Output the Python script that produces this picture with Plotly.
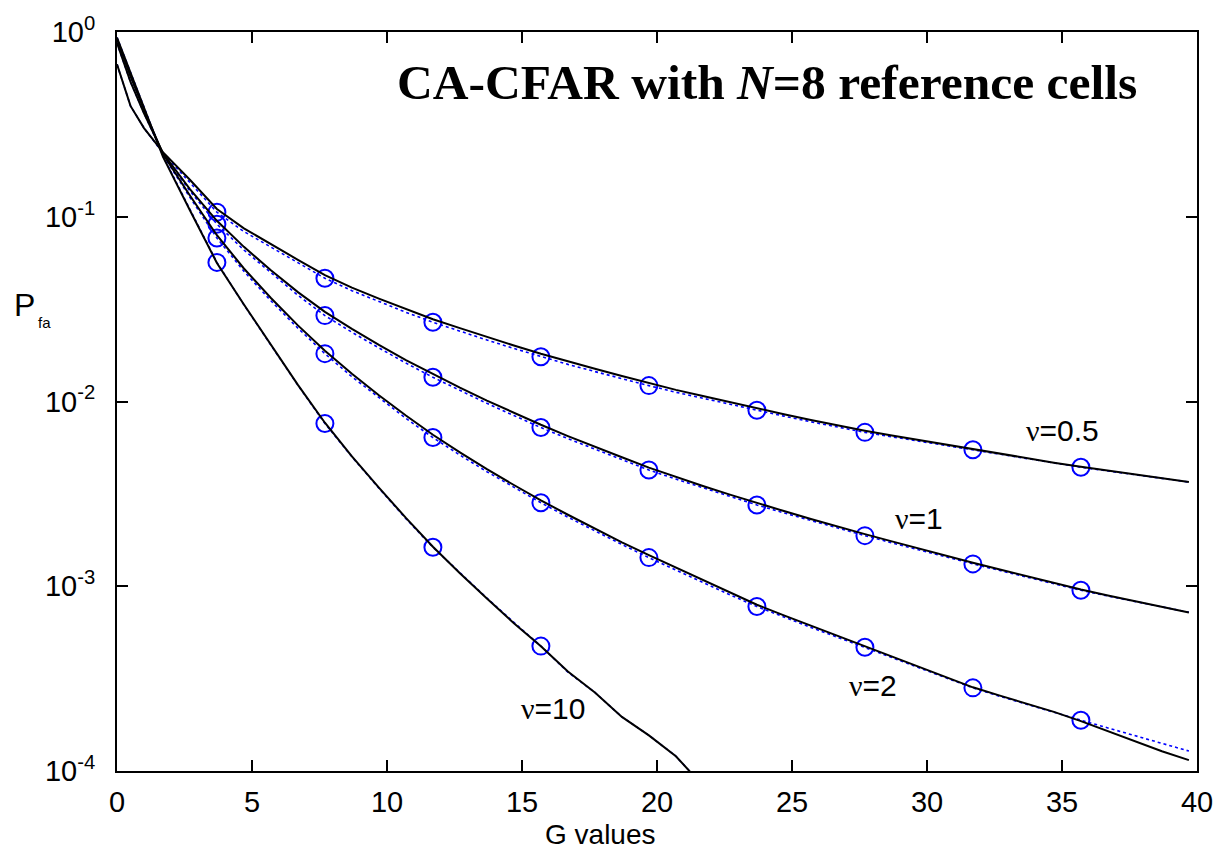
import numpy as np
import plotly.graph_objects as go

# ---------------- data ----------------
G_values = [0.0, 0.5, 1.0, 1.7, 2.7, 3.7, 4.7, 5.7, 6.7, 7.7, 8.7, 9.7, 10.7, 11.7,
            12.7, 13.7, 14.7, 15.7, 16.7, 17.7, 18.7, 19.7, 20.7, 21.7, 22.7, 23.7,
            24.7, 25.7, 26.7, 27.7, 28.7, 29.7, 30.7, 31.7, 32.7, 33.7, 34.7, 35.7,
            36.7, 37.7, 38.7, 39.7]
marker_G = [3.7, 7.7, 11.7, 15.7, 19.7, 23.7, 27.7, 31.7, 35.7]
marker_count = [9, 9, 9, 4]   # circles shown on each dotted curve (nu = 0.5, 1, 2, 10)

# log10(Pfa), blue dotted curves (with circle markers)
log_pfa_nu05_dot = [-0.175, -0.40, -0.52, -0.655, -0.815, -0.975, -1.08, -1.165, -1.25, -1.333,
                    -1.40, -1.46, -1.517, -1.571, -1.62, -1.667, -1.713, -1.758, -1.799, -1.838,
                    -1.877, -1.914, -1.95, -1.983, -2.016, -2.047, -2.079, -2.11, -2.139, -2.167,
                    -2.191, -2.215, -2.238, -2.261, -2.285, -2.31, -2.333, -2.356, -2.376, -2.396,
                    -2.416, -2.436]
log_pfa_nu1_dot = [-0.06, -0.27, -0.44, -0.66, -0.86, -1.04, -1.18, -1.305, -1.425, -1.535,
                   -1.625, -1.71, -1.792, -1.869, -1.941, -2.01, -2.076, -2.141, -2.201, -2.259,
                   -2.316, -2.371, -2.42, -2.468, -2.514, -2.56, -2.603, -2.645, -2.686, -2.726,
                   -2.765, -2.804, -2.842, -2.879, -2.915, -2.951, -2.987, -3.022, -3.053, -3.083,
                   -3.113, -3.141]
log_pfa_nu2_dot = [-0.04, -0.24, -0.42, -0.665, -0.895, -1.115, -1.295, -1.455, -1.603, -1.741,
                   -1.866, -1.981, -2.091, -2.195, -2.29, -2.38, -2.466, -2.548, -2.626, -2.701,
                   -2.774, -2.845, -2.913, -2.98, -3.046, -3.11, -3.168, -3.223, -3.277, -3.33,
                   -3.386, -3.441, -3.496, -3.55, -3.596, -3.64, -3.683, -3.725, -3.767, -3.809,
                   -3.85, -3.892]
log_pfa_nu10_dot = [-0.03, -0.22, -0.40, -0.67, -0.96, -1.247, -1.477, -1.697, -1.912, -2.119,
                    -2.299, -2.469, -2.634, -2.789, -2.929, -3.064, -3.196, -3.324, -3.465, -3.575,
                    -3.707, -3.807, -3.92, -4.08]

# log10(Pfa), black solid curves
log_pfa_nu05_sol = [-0.175, -0.40, -0.52, -0.65, -0.80, -0.958, -1.063, -1.15, -1.233, -1.316,
                    -1.384, -1.443, -1.50, -1.555, -1.603, -1.652, -1.697, -1.742, -1.784, -1.823,
                    -1.862, -1.901, -1.937, -1.97, -2.004, -2.036, -2.069, -2.10, -2.13, -2.158,
                    -2.184, -2.209, -2.234, -2.257, -2.282, -2.307, -2.331, -2.353, -2.374, -2.395,
                    -2.415, -2.436]
log_pfa_nu1_sol = [-0.06, -0.27, -0.44, -0.655, -0.85, -1.022, -1.163, -1.29, -1.408, -1.515,
                   -1.607, -1.694, -1.776, -1.852, -1.925, -1.995, -2.061, -2.126, -2.187, -2.246,
                   -2.302, -2.358, -2.409, -2.457, -2.504, -2.55, -2.593, -2.636, -2.678, -2.718,
                   -2.757, -2.797, -2.836, -2.873, -2.909, -2.946, -2.983, -3.018, -3.05, -3.081,
                   -3.111, -3.142]
log_pfa_nu2_sol = [-0.04, -0.24, -0.42, -0.66, -0.885, -1.10, -1.28, -1.44, -1.588, -1.725,
                   -1.85, -1.966, -2.076, -2.18, -2.275, -2.366, -2.452, -2.535, -2.613, -2.688,
                   -2.762, -2.832, -2.90, -2.967, -3.034, -3.10, -3.158, -3.214, -3.268, -3.325,
                   -3.382, -3.438, -3.493, -3.547, -3.592, -3.637, -3.68, -3.73, -3.785, -3.84,
                   -3.893, -3.941]
log_pfa_nu10_sol = [-0.03, -0.22, -0.40, -0.675, -0.965, -1.25, -1.475, -1.695, -1.91, -2.115,
                    -2.297, -2.466, -2.63, -2.786, -2.93, -3.066, -3.2, -3.325, -3.462, -3.575,
                    -3.707, -3.807, -3.92, -4.08]

curve_labels = ["\u03bd=0.5", "\u03bd=1", "\u03bd=2", "\u03bd=10"]
label_G = [35.0, 29.7, 28.0, 16.15]
label_log_pfa = [-2.157, -2.632, -3.535, -3.659]

y_tick_exps = [0, -1, -2, -3, -4]
x_ticks = [0, 5, 10, 15, 20, 25, 30, 35, 40]

# ---------------- figure ----------------
fig = go.Figure()
dotted = [log_pfa_nu05_dot, log_pfa_nu1_dot, log_pfa_nu2_dot, log_pfa_nu10_dot]
solid = [log_pfa_nu05_sol, log_pfa_nu1_sol, log_pfa_nu2_sol, log_pfa_nu10_sol]

for arr in dotted:
    g = G_values[:len(arr)]
    y = [10 ** v for v in arr]
    fig.add_trace(go.Scatter(x=g, y=y, mode="lines",
                             line=dict(color="#0000ff", width=1.6, dash="dot"),
                             showlegend=False, hoverinfo="skip"))
for arr, cnt in zip(dotted, marker_count):
    g = G_values[:len(arr)]
    mg = marker_G[:cnt]
    my = [10 ** arr[g.index(gv)] for gv in mg]
    fig.add_trace(go.Scatter(x=mg, y=my, mode="markers",
                             marker=dict(symbol="circle-open", size=17, color="#0000ff",
                                         line=dict(width=2, color="#0000ff")),
                             showlegend=False, hoverinfo="skip"))
for arr in solid:
    g = G_values[:len(arr)]
    y = [10 ** v for v in arr]
    fig.add_trace(go.Scatter(x=g, y=y, mode="lines",
                             line=dict(color="black", width=2),
                             showlegend=False, hoverinfo="skip"))

annotations = []
for txt, gx, ly in zip(curve_labels, label_G, label_log_pfa):
    t = '<span style="font-family:Liberation Serif">' + txt[0] + '</span>' + txt[1:]
    annotations.append(dict(x=gx, y=ly, xref="x", yref="y", text=t, showarrow=False,
                            font=dict(size=30, color="black", family="Liberation Sans"),
                            xanchor="center", yanchor="middle"))

annotations.append(dict(x=0.602, y=0.932, xref="paper", yref="paper",
                        text="<b>CA-CFAR with <i>N</i>=8 reference cells</b>",
                        showarrow=False, xanchor="center", yanchor="middle",
                        font=dict(size=49.5, color="black", family="Liberation Serif")))
annotations.append(dict(x=0.4475, y=-0.0865, xref="paper", yref="paper", text="G values",
                        showarrow=False, xanchor="center", yanchor="middle",
                        font=dict(size=28, color="black", family="Liberation Sans")))
annotations.append(dict(x=-0.0856, y=0.630, xref="paper", yref="paper", text="P",
                        showarrow=False, xanchor="center", yanchor="middle",
                        font=dict(size=32, color="black", family="Liberation Sans")))
annotations.append(dict(x=-0.0672, y=0.6068, xref="paper", yref="paper", text="fa",
                        showarrow=False, xanchor="center", yanchor="middle",
                        font=dict(size=15, color="black", family="Liberation Sans")))

fig.update_layout(
    width=1225, height=852,
    margin=dict(l=117, r=22, t=31, b=81),
    paper_bgcolor="white", plot_bgcolor="white",
    annotations=annotations,
    xaxis=dict(range=[0, 40], tickvals=x_ticks, ticktext=[str(v) for v in x_ticks],
               showgrid=False, zeroline=False, showline=True, linecolor="black", linewidth=2,
               mirror="ticks", ticks="inside", ticklen=11, tickwidth=1.5, tickcolor="black",
               tickfont=dict(size=29, color="black", family="Liberation Sans"),
               ticklabelstandoff=4),
    yaxis=dict(type="log", range=[-4, 0],
               tickvals=[10 ** e for e in y_tick_exps],
               ticktext=["10<sup>%d</sup>" % e for e in y_tick_exps],
               showgrid=False, zeroline=False, showline=True, linecolor="black", linewidth=2,
               mirror="ticks", ticks="inside", ticklen=11, tickwidth=1.5, tickcolor="black",
               tickfont=dict(size=29, color="black", family="Liberation Sans"),
               ticklabelstandoff=14),
)

fig.write_html("out.html")
